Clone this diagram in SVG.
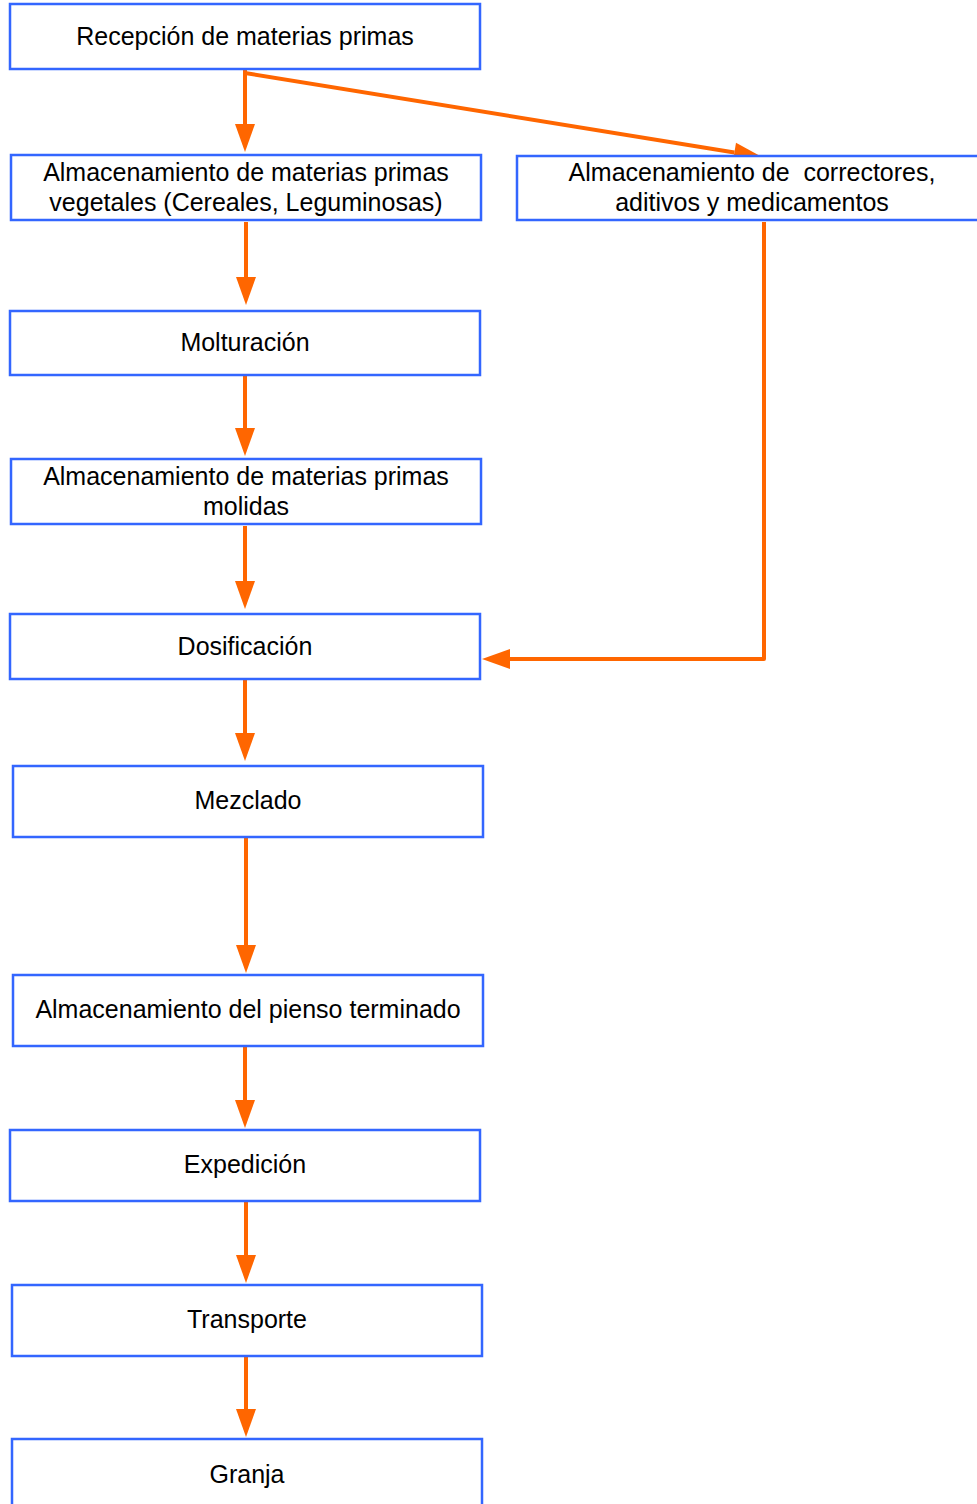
<svg xmlns="http://www.w3.org/2000/svg" width="977" height="1504" viewBox="0 0 977 1504">
<defs>
<marker id="ah" markerUnits="userSpaceOnUse" markerWidth="28" markerHeight="20" refX="0" refY="10" orient="auto" overflow="visible">
<path d="M0,0 L28,10 L0,20 z" fill="#ff6600"/>
</marker>
<style>
.box{fill:#ffffff;stroke:#3366ff;stroke-width:2.5}
.t{font-family:"Liberation Sans",Arial,sans-serif;font-size:25px;fill:#000000;text-anchor:middle;white-space:pre}
.c{fill:none;stroke:#ff6600;stroke-width:4;stroke-linejoin:round;marker-end:url(#ah)}
</style>
</defs>
<rect width="977" height="1504" fill="#ffffff"/>
<g id="connectors">
<path class="c" d="M245,70 V124"/>
<path class="c" d="M245,73 L734.4,152.5"/>
<path class="c" d="M246,222 V277"/>
<path class="c" d="M245,376 V428"/>
<path class="c" d="M245,526 V581"/>
<path class="c" d="M245,680 V733"/>
<path class="c" d="M246,838 V945"/>
<path class="c" d="M245,1047 V1100"/>
<path class="c" d="M246,1202 V1255"/>
<path class="c" d="M246,1357 V1409"/>
<path class="c" d="M764,222 V659 H510"/>
</g>
<g id="n1"><rect class="box" x="10" y="4" width="470" height="65"/><text class="t" x="245" y="45">Recepción de materias primas</text></g>
<g id="n2"><rect class="box" x="11" y="155" width="470" height="65"/><text class="t" x="246" y="181">Almacenamiento de materias primas</text><text class="t" x="246" y="211">vegetales (Cereales, Leguminosas)</text></g>
<g id="n3"><rect class="box" x="517" y="156" width="470" height="64"/><text class="t" x="752" y="181" xml:space="preserve">Almacenamiento de  correctores,</text><text class="t" x="752" y="211">aditivos y medicamentos</text></g>
<g id="n4"><rect class="box" x="10" y="311" width="470" height="64"/><text class="t" x="245" y="351">Molturación</text></g>
<g id="n5"><rect class="box" x="11" y="459" width="470" height="65"/><text class="t" x="246" y="485">Almacenamiento de materias primas</text><text class="t" x="246" y="515">molidas</text></g>
<g id="n6"><rect class="box" x="10" y="614" width="470" height="65"/><text class="t" x="245" y="655">Dosificación</text></g>
<g id="n7"><rect class="box" x="13" y="766" width="470" height="71"/><text class="t" x="248" y="809">Mezclado</text></g>
<g id="n8"><rect class="box" x="13" y="975" width="470" height="71"/><text class="t" x="248" y="1018">Almacenamiento del pienso terminado</text></g>
<g id="n9"><rect class="box" x="10" y="1130" width="470" height="71"/><text class="t" x="245" y="1173">Expedición</text></g>
<g id="n10"><rect class="box" x="12" y="1285" width="470" height="71"/><text class="t" x="247" y="1328">Transporte</text></g>
<g id="n11"><rect class="box" x="12" y="1439" width="470" height="80"/><text class="t" x="247" y="1483">Granja</text></g>
</svg>
